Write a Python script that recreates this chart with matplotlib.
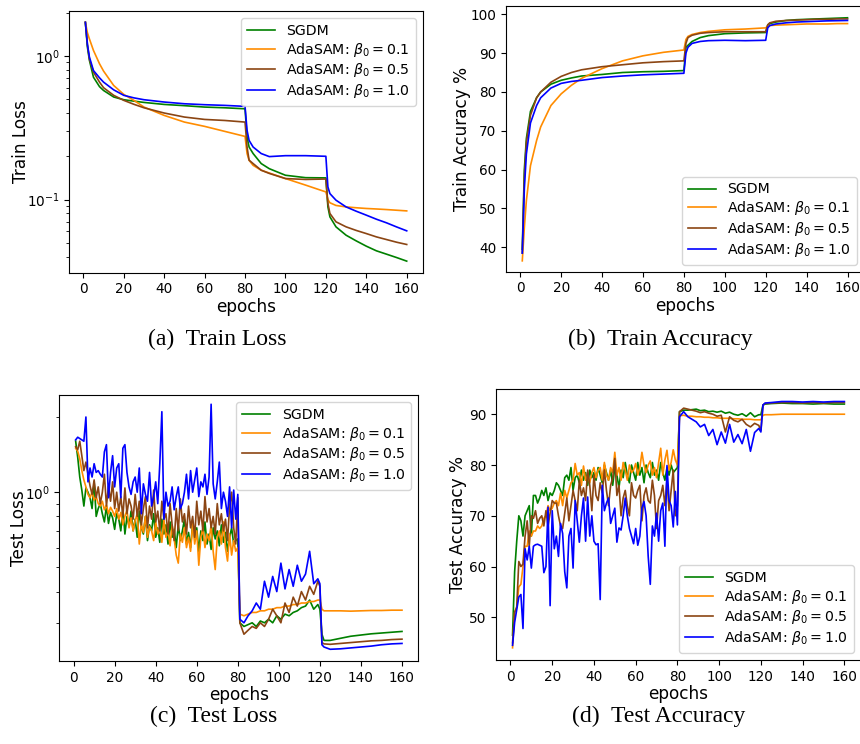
import matplotlib
matplotlib.use('Agg')
import matplotlib.pyplot as plt
from matplotlib.ticker import NullFormatter

labels = ['SGDM', r'AdaSAM: $\beta_0 = 0.1$', r'AdaSAM: $\beta_0 = 0.5$', r'AdaSAM: $\beta_0 = 1.0$']
colors = ['green', 'darkorange', 'saddlebrown', 'blue']

# train curves (smooth), sampled epochs
x_train = [1, 2, 3, 5, 8, 10, 15, 20, 25, 30, 40, 50, 60, 70, 80, 81, 82, 84, 88, 92,
           100, 110, 120, 121, 122, 125, 130, 135, 140, 145, 150, 155, 160]

train_loss_sgdm = [1.71, 1.15, 0.93, 0.71, 0.61, 0.574, 0.517, 0.495, 0.484, 0.474, 0.459, 0.45, 0.44, 0.435, 0.428,
                   0.272, 0.232, 0.209, 0.178, 0.164, 0.1476, 0.142, 0.1415, 0.089, 0.0758, 0.0646, 0.0565, 0.0516,
                   0.0474, 0.044, 0.0417, 0.0395, 0.0373]
train_loss_b01 = [1.71, 1.45, 1.31, 1.09, 0.88, 0.783, 0.622, 0.539, 0.49, 0.44, 0.385, 0.346, 0.323, 0.298, 0.275,
                  0.209, 0.1876, 0.173, 0.16, 0.153, 0.14, 0.126, 0.113, 0.1, 0.095, 0.091, 0.0889, 0.0877,
                  0.0867, 0.086, 0.0852, 0.0843, 0.0834]
train_loss_b05 = [1.71, 1.2, 0.95, 0.77, 0.656, 0.6, 0.531, 0.49, 0.46, 0.435, 0.4, 0.375, 0.361, 0.355, 0.346,
                  0.232, 0.188, 0.178, 0.16, 0.152, 0.14, 0.138, 0.139, 0.094, 0.08, 0.07, 0.0646, 0.061,
                  0.058, 0.055, 0.0527, 0.0505, 0.0487]
train_loss_b10 = [1.71, 1.2, 0.98, 0.79, 0.703, 0.656, 0.58, 0.531, 0.51, 0.495, 0.477, 0.464, 0.457, 0.452, 0.445,
                  0.303, 0.258, 0.232, 0.209, 0.199, 0.202, 0.202, 0.2, 0.1225, 0.11, 0.099, 0.0889, 0.083,
                  0.0779, 0.073, 0.0689, 0.0645, 0.0606]

train_acc_sgdm = [39.5, 60, 68, 75, 78.5, 80, 82, 83, 83.6, 84.1, 84.5, 85, 85.2, 85.3, 85.5, 91.5, 92, 93, 94,
                  94.5, 95, 95.2, 95.3, 97.2, 97.6, 98, 98.4, 98.6, 98.7, 98.8, 98.9, 99.0, 99.1]
train_acc_b01 = [36.5, 45, 52, 61, 67.5, 71, 76.5, 79.5, 81.7, 83.5, 86, 88, 89.3, 90.2, 90.8, 93.5, 94.3, 94.8,
                 95.3, 95.6, 96, 96.2, 96.5, 97, 97.1, 97.2, 97.3, 97.4, 97.5, 97.5, 97.5, 97.6, 97.6]
train_acc_b05 = [38.5, 58, 67, 74, 78.5, 80, 82.5, 84, 85, 85.7, 86.5, 87, 87.5, 87.8, 88, 92.5, 94, 94.6, 95.1,
                 95.3, 95.5, 95.5, 95.5, 97.3, 97.8, 98.2, 98.4, 98.5, 98.6, 98.7, 98.7, 98.8, 98.8]
train_acc_b10 = [38.5, 55, 64, 72, 76.5, 78.5, 81, 82.2, 82.7, 83, 83.7, 84.1, 84.4, 84.6, 84.8, 90, 91.5, 92.5,
                 93, 93.2, 93.3, 93.2, 93.3, 96.5, 97.1, 97.5, 97.8, 98.0, 98.1, 98.2, 98.3, 98.35, 98.4]

# test curves (noisy): every epoch to 80, every 2nd to 119, then sparse
x_test = list(range(1, 81)) + list(range(81, 120, 2)) + [120, 121, 122] + list(range(125, 161, 5))

test_loss_sgdm = [1.60, 1.38, 1.15, 1.02, 0.88, 1.04, 1.00, 0.95, 0.86, 1.10,
                  0.80, 0.86, 0.90, 0.82, 0.76, 0.88, 0.75, 0.83, 0.79, 0.71,
                  0.82, 0.78, 0.70, 0.86, 0.68, 0.80, 0.73, 0.84, 0.70, 0.78,
                  0.66, 0.84, 0.72, 0.68, 0.80, 0.64, 0.74, 0.70, 0.82, 0.66,
                  0.72, 0.63, 0.78, 0.68, 0.74, 0.62, 0.76, 0.66, 0.71, 0.60,
                  0.74, 0.64, 0.70, 0.78, 0.62, 0.69, 0.60, 0.75, 0.66, 0.72,
                  0.58, 0.70, 0.64, 0.76, 0.62, 0.68, 0.59, 0.72, 0.65, 0.70,
                  0.61, 0.74, 0.63, 0.69, 0.58, 0.66, 0.72, 0.62, 0.64, 0.65,
                  0.30, 0.29, 0.295, 0.30, 0.29, 0.305, 0.30, 0.31, 0.30, 0.32,
                  0.31, 0.325, 0.32, 0.33, 0.335, 0.345, 0.35, 0.37, 0.34, 0.355,
                  0.34, 0.27, 0.255,
                  0.255, 0.26, 0.265, 0.268, 0.271, 0.273, 0.275, 0.277]
test_loss_b01 = [1.50, 1.46, 1.36, 1.22, 1.12, 1.05, 0.98, 0.95, 1.00, 0.93,
                 0.96, 0.90, 0.88, 0.92, 0.85, 0.89, 0.82, 0.87, 0.84, 0.80,
                 0.86, 0.78, 0.83, 0.74, 0.80, 0.85, 0.72, 0.79, 0.70, 0.77,
                 0.82, 0.62, 0.75, 0.69, 0.80, 0.66, 0.73, 0.70, 0.64, 0.76,
                 0.68, 0.72, 0.63, 0.78, 0.66, 0.70, 0.61, 0.74, 0.65, 0.56,
                 0.52, 0.68, 0.63, 0.72, 0.60, 0.66, 0.58, 0.75, 0.62, 0.70,
                 0.51, 0.66, 0.72, 0.60, 0.68, 0.64, 0.74, 0.58, 0.49, 0.66,
                 0.70, 0.62, 0.76, 0.60, 0.53, 0.68, 0.56, 0.64, 0.58, 0.60,
                 0.325, 0.32, 0.325, 0.33, 0.33, 0.335, 0.335, 0.34, 0.34, 0.345,
                 0.345, 0.35, 0.35, 0.355, 0.355, 0.36, 0.36, 0.365, 0.365, 0.37,
                 0.37, 0.34, 0.335,
                 0.335, 0.335, 0.334, 0.335, 0.336, 0.336, 0.337, 0.337]
test_loss_b05 = [1.52, 1.48, 1.60, 1.40, 1.22, 1.32, 1.18, 1.06, 0.98, 1.12,
                 0.95, 1.05, 0.90, 1.00, 1.18, 0.88, 1.06, 0.92, 1.10, 0.86,
                 1.00, 0.84, 0.96, 0.80, 1.04, 0.82, 0.94, 0.88, 0.78, 0.98,
                 0.80, 0.92, 0.74, 0.86, 0.96, 0.72, 0.88, 0.78, 1.02, 0.76,
                 0.84, 0.70, 0.92, 0.78, 0.82, 0.68, 0.90, 0.74, 0.64, 0.86,
                 0.70, 0.94, 0.76, 0.82, 0.68, 0.88, 0.72, 0.80, 0.66, 0.92,
                 0.74, 0.84, 0.70, 0.96, 0.76, 0.86, 0.72, 0.80, 0.68, 0.90,
                 0.74, 0.82, 0.70, 0.78, 0.64, 0.88, 1.00, 0.72, 0.62, 0.95,
                 0.30, 0.27, 0.28, 0.29, 0.285, 0.30, 0.29, 0.31, 0.34, 0.32,
                 0.30, 0.36, 0.33, 0.38, 0.35, 0.40, 0.37, 0.42, 0.39, 0.44,
                 0.42, 0.25, 0.247,
                 0.246, 0.248, 0.25, 0.252, 0.254, 0.255, 0.257, 0.258]
test_loss_b10 = [1.62, 1.66, 1.64, 1.62, 1.60, 2.00, 1.10, 1.25, 1.15, 1.30,
                 1.20, 1.22, 1.18, 1.15, 1.45, 1.55, 0.95, 1.20, 1.40, 1.05,
                 1.25, 1.30, 0.95, 1.50, 1.55, 1.20, 1.05, 0.98, 1.10, 1.15,
                 1.00, 1.25, 0.82, 1.08, 0.98, 0.92, 1.20, 0.88, 0.96, 1.10,
                 0.90, 1.30, 2.10, 0.78, 1.00, 0.88, 0.92, 1.05, 0.85, 0.96,
                 1.05, 0.86, 0.90, 1.00, 1.18, 0.94, 1.22, 1.00, 1.12, 1.25,
                 0.96, 1.10, 1.05, 1.18, 0.98, 1.15, 2.25, 1.08, 0.94, 1.10,
                 1.32, 0.86, 1.00, 0.92, 0.80, 1.05, 0.72, 1.02, 0.78, 0.98,
                 0.31, 0.30, 0.32, 0.335, 0.36, 0.34, 0.44, 0.38, 0.46, 0.40,
                 0.52, 0.41, 0.49, 0.42, 0.51, 0.44, 0.47, 0.58, 0.43, 0.45,
                 0.43, 0.245, 0.24,
                 0.235, 0.236, 0.238, 0.24, 0.242, 0.245, 0.247, 0.248]

test_acc_sgdm = [46.5, 59, 65, 70, 69, 66, 70, 71, 72, 66,
                 74, 74, 72.5, 73.5, 75, 74, 75.5, 73, 74.5, 74,
                 75, 76.5, 76, 75, 74, 77.5, 78, 77, 79.5, 75,
                 77.5, 78, 76.5, 79, 77, 78.5, 76, 79, 77.5, 78.5,
                 77, 79.5, 78, 76.5, 80, 78.5, 77, 79, 76, 79.5,
                 78, 75.5, 79, 77.5, 80.5, 78, 76.5, 80, 78.5, 77,
                 80.5, 78, 79.5, 76.5, 80, 78.5, 77.5, 80.5, 78, 79,
                 77, 80.5, 78.5, 77, 79.5, 78, 80, 78.5, 79, 79.5,
                 90.5, 90.8, 90.8, 90.9, 91.0, 90.7, 90.8, 90.5, 90.6, 90.4,
                 90.6, 90.2, 90.4, 90.0, 89.8, 90.1, 89.6, 90.3, 89.5, 89.9,
                 89.9, 91.8, 92.0,
                 92.1, 92.2, 92.1, 92.1, 92.0, 92.1, 92.0, 92.0]
test_acc_b01 = [44, 51, 52, 56, 56.5, 60, 64, 64, 67, 66,
                67, 67, 68, 67.5, 68, 69.5, 70, 72, 71, 71.5,
                72.5, 73, 72, 74.5, 72, 75, 73.5, 75, 76.5, 77,
                80.3, 78, 78.5, 76, 79.8, 77, 78, 76.5, 78.5, 79.5,
                77.5, 79, 79.5, 77, 80.5, 78, 77, 79.5, 78.5, 82.5,
                78, 79.5, 77, 80.5, 79, 77, 80, 78.5, 79, 80.3,
                78, 79.5, 82.5, 80, 78.5, 80, 80.8, 78, 79.5, 77.5,
                80.5, 83.3, 78, 81, 82.9, 79, 80.5, 83, 81, 80,
                89.7, 89.8, 89.6, 89.6, 89.5, 89.5, 89.4, 89.4, 89.3, 89.3,
                89.2, 89.2, 89.2, 89.1, 89.1, 89.0, 89.0, 89.0, 88.9, 88.9,
                88.9, 89.8, 89.9,
                89.9, 90.0, 90.0, 90.0, 90.0, 90.0, 90.0, 90.0]
test_acc_b05 = [45, 51, 52, 61, 60, 60.5, 66, 69, 64, 70,
                69.5, 71, 68.5, 69.5, 70, 68, 71, 68, 70.5, 73,
                72.5, 72.5, 70, 68, 67.5, 70.5, 73.5, 69, 72, 75,
                73, 71, 77, 74, 75.5, 73, 79, 76, 71, 78,
                74, 73, 76.5, 74.5, 79, 75, 72, 76, 77.5, 81.3,
                74, 76, 70, 73.5, 75, 72, 70, 76.5, 74, 73.5,
                75, 76, 69, 74, 75.5, 73, 72.5, 77, 74, 67.5,
                73, 74, 76, 72, 77, 71, 75, 79, 70, 72,
                90.5, 91.2, 91.0, 90.8, 90.6, 90.3, 90.5, 90.2, 90.0, 89.6,
                89.8, 86.5, 89.5, 88.8, 88.5, 89.0, 88.0, 87.5, 88.2, 87.8,
                86.8, 91.8, 92.1,
                92.2, 92.3, 92.3, 92.2, 92.3, 92.2, 92.3, 92.3]
test_acc_b10 = [44.5, 49, 51.5, 54, 54.5, 47.8, 63.5, 61.3, 64, 59.7,
                64, 64.3, 64.4, 64.2, 64, 58.8, 60, 71.7, 52.3, 71,
                63.5, 66, 62, 68.5, 66.5, 59, 55.8, 66, 67.5, 59.7,
                73, 69, 64.8, 70, 73.5, 65, 73.7, 66, 70, 65,
                64.3, 64.5, 53.5, 76, 71, 72.5, 73.5, 68.5, 70, 71.5,
                64.8, 67.6, 67.2, 70, 73.5, 70, 67.5, 66, 64.5, 67.5,
                64.2, 66, 71.5, 72.8, 70, 62, 56.5, 68, 66, 70.5,
                65, 71, 72.5, 64, 79.9, 73, 72, 67.8, 74.8, 68.2,
                89.5, 90.5, 89.5, 89.0, 88.5, 87.5, 88.0, 85.8, 87.0, 84.0,
                86.5, 84.3, 88.0, 84.5, 86.0, 84.2, 87.0, 82.7, 86.4, 87.2,
                86.5, 91.8, 92.2,
                92.3, 92.5, 92.5, 92.4, 92.5, 92.4, 92.5, 92.5]

fig = plt.figure(figsize=(8.6, 7.44), dpi=100)

tick_fs = 9.8
label_fs = 12.2
legend_fs = 10.2
cap_fs = 17


def draw(ax, x, series, ylabel, loc, ylab_x):
    for y, c, lab in zip(series, colors, labels):
        ax.plot(x, y, color=c, linewidth=1.2, label=lab)
    ax.set_xticks(range(0, 161, 20))
    ax.tick_params(labelsize=tick_fs)
    ax.set_xlabel('epochs', fontsize=label_fs, labelpad=1)
    ax.set_ylabel(ylabel, fontsize=label_fs)
    ax.yaxis.set_label_coords(ylab_x, 0.5)
    ax.legend(loc=loc, fontsize=legend_fs, labelspacing=0.2)


ax1 = fig.add_axes([0.0806, 0.6335, 0.411, 0.3517])
ax1.set_yscale('log')
draw(ax1, x_train, [train_loss_sgdm, train_loss_b01, train_loss_b05, train_loss_b10], 'Train Loss', 'upper right', -0.111)
ax1.set_ylim(0.031, 2.05)
ax1.yaxis.set_minor_formatter(NullFormatter())

ax2 = fig.add_axes([0.5884, 0.6348, 0.416, 0.3575])
draw(ax2, x_train, [train_acc_sgdm, train_acc_b01, train_acc_b05, train_acc_b10], 'Train Accuracy %', 'lower right', -0.098)
ax2.set_ylim(33.7, 102.2)

ax3 = fig.add_axes([0.069, 0.1116, 0.4174, 0.3575])
ax3.set_yscale('log')
draw(ax3, x_test, [test_loss_sgdm, test_loss_b01, test_loss_b05, test_loss_b10], 'Test Loss', 'upper right', -0.087)
ax3.set_ylim(0.211, 2.45)
ax3.yaxis.set_minor_formatter(NullFormatter())

ax4 = fig.add_axes([0.5767, 0.1129, 0.4244, 0.3638])
draw(ax4, x_test, [test_acc_sgdm, test_acc_b01, test_acc_b05, test_acc_b10], 'Test Accuracy %', 'lower right', -0.079)
ax4.set_ylim(41.6, 94.9)

captions = [('(a)  Train Loss', 217, 339), ('(b)  Train Accuracy', 660, 339),
            ('(c)  Test Loss', 214, 716), ('(d)  Test Accuracy', 659, 716)]
for txt, px, py in captions:
    fig.text(px / 860, 1 - py / 744, txt, ha='center', va='center',
             fontsize=cap_fs, family='Liberation Serif')

fig.savefig('out.png', dpi=100)
